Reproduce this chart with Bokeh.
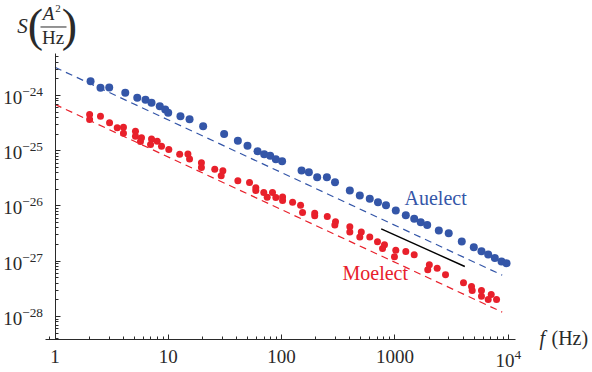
from bokeh.plotting import figure
from bokeh.models import Range1d, Label, Arrow, LogTickFormatter
from bokeh.embed import file_html
from bokeh.resources import INLINE

# ---------------- data ----------------
au_f = [2.06, 2.52, 3.01, 4.17, 5.32, 6.29, 7.11, 8.41, 9.39, 9.98,
        12.8, 15.4, 20.3, 31.1, 41.1, 50.0, 61.3, 70.2, 79.3, 88.9,
        101, 150, 174, 206, 251, 296, 400, 490, 600, 709,
        834, 1018, 1248, 1480, 1690, 1928, 2440, 2985, 3892, 4969,
        5808, 6658, 7620, 8730, 9660]
au_S = [1.82e-24, 1.38e-24, 1.40e-24, 1.12e-24, 9.1e-25, 8.36e-25, 7.38e-25, 6.40e-25, 5.58e-25, 4.86e-25,
        4.22e-25, 3.72e-25, 2.78e-25, 2.0e-25, 1.51e-25, 1.23e-25, 9.8e-26, 8.67e-26, 8.1e-26, 7.03e-26,
        6.47e-26, 4.39e-26, 4.09e-26, 3.32e-26, 3.32e-26, 2.69e-26, 1.91e-26, 1.55e-26, 1.35e-26, 1.17e-26,
        1.03e-26, 8.3e-27, 6.82e-27, 5.87e-27, 5.09e-27, 4.53e-27, 3.6e-27, 3.22e-27, 2.28e-27, 1.80e-27,
        1.52e-27, 1.32e-27, 1.14e-27, 9.9e-28, 9.2e-28]

mo_f = [2.02, 2.02, 2.52, 3.03, 3.54, 4.02, 4.02, 5.13, 5.13, 5.80,
        5.68, 6.97, 7.11, 7.98, 8.71, 10.1, 12.6, 14.9, 15.4, 19.6,
        19.6, 25.7, 30.3, 29.3, 41.1, 52.1, 59.2, 59.2, 69.6, 74.6,
        83.1, 88.9, 102, 102, 125, 147, 153, 196, 196, 253,
        299, 295, 400, 400, 505, 490, 600, 702, 809, 778,
        1018, 991, 1248, 1480, 2013, 1950, 2361, 2797, 4030, 4743,
        4810, 5808, 5808, 6658, 7080, 7890]
mo_S = [4.53e-25, 3.68e-25, 4.22e-25, 3.21e-25, 2.60e-25, 2.67e-25, 2.08e-25, 2.26e-25, 1.83e-25, 1.71e-25,
        1.47e-25, 1.30e-25, 1.64e-25, 1.49e-25, 1.21e-25, 1.05e-25, 8.67e-26, 8.73e-26, 7.06e-26, 6.05e-26,
        4.98e-26, 4.64e-26, 4.34e-26, 3.52e-26, 2.86e-26, 2.66e-26, 2.13e-26, 1.91e-26, 1.75e-26, 1.44e-26,
        1.75e-26, 1.43e-26, 1.46e-26, 1.26e-26, 1.17e-26, 1.03e-26, 7.62e-27, 7.41e-27, 6.65e-27, 6.46e-27,
        5.18e-27, 4.53e-27, 4.22e-27, 3.38e-27, 3.38e-27, 2.75e-27, 2.75e-27, 2.26e-27, 1.99e-27, 1.70e-27,
        1.58e-27, 1.20e-27, 1.50e-27, 1.31e-27, 8.67e-28, 7.0e-28, 7.48e-28, 5.69e-28, 4.09e-28, 3.49e-28,
        2.96e-28, 2.96e-28, 2.33e-28, 2.03e-28, 2.50e-28, 2.03e-28]

# fitted power laws (end points) and reference slope line
fit_f = [1, 8850]
au_fit = [3.24e-24, 5.6e-28]
mo_fit = [6.9e-25, 1.2e-28]
ref_f = [757, 4140]
ref_S = [3.86e-27, 8.03e-28]

x_tick_labels = {1: "1", 10: "10", 100: "100", 1000: "1000"}   # 10^4 keeps the 10-power form

# ---------------- styling ----------------
BLUE = "#3456a8"
RED = "#e8202b"
INK = "#2a2a2a"
SERIF = "Liberation Serif"

# the frame covers the whole canvas; axes are pinned inside it
X0, X1 = 0.3303, 55460.0
Y0, Y1 = 9.69e-30, 5.241e-23
X_AXIS_AT = 3.84e-29      # where the horizontal axis crosses
Y_AXIS_AT = 1.0           # where the vertical axis crosses

p = figure(width=592, height=372, x_axis_type="log", y_axis_type="log",
           x_range=Range1d(X0, X1), y_range=Range1d(Y0, Y1),
           output_backend="svg", toolbar_location=None,
           min_border_left=0, min_border_right=0, min_border_top=0, min_border_bottom=0)
p.grid.visible = False
p.outline_line_color = None
p.background_fill_color = "white"
p.border_fill_color = "white"

for ax in (p.xaxis[0], p.yaxis[0]):
    ax.axis_line_color = INK
    ax.axis_line_width = 1
    ax.major_tick_in = 5
    ax.major_tick_out = 0
    ax.minor_tick_in = 3
    ax.minor_tick_out = 0
    ax.major_tick_line_color = INK
    ax.minor_tick_line_color = INK
    ax.major_label_text_font = SERIF
    ax.major_label_text_font_size = "19px"
    ax.major_label_text_color = INK

p.xaxis.fixed_location = X_AXIS_AT
p.yaxis.fixed_location = Y_AXIS_AT
p.xaxis.bounds = (0.824, 11590)
p.yaxis.bounds = (X_AXIS_AT, 5.69e-24)
p.xaxis.major_label_standoff = 11
p.yaxis.major_label_standoff = 12
p.xaxis.formatter = LogTickFormatter()
p.xaxis.major_label_overrides = x_tick_labels

# fit lines
p.line(fit_f, au_fit, line_color=BLUE, line_width=1.2, line_dash="7 5")
p.line(fit_f, mo_fit, line_color=RED, line_width=1.2, line_dash="7 5")
p.line(ref_f, ref_S, line_color="black", line_width=1.4)

# data points
p.scatter(au_f, au_S, size=8, fill_color=BLUE, line_color=None)
p.scatter(mo_f, mo_S, size=7, fill_color=RED, line_color=None)


def at(px, py):
    """picture pixel -> data coordinate (for annotation placement)"""
    return 10 ** ((px - 54.5) / 113.3), 10 ** (-24 - (py - 95) / 55.25)


def lab(px, py, text, size, color=INK, style="normal", align="left", baseline="middle"):
    x, y = at(px, py)
    p.add_layout(Label(x=x, y=y, text=text, text_font=SERIF, text_font_size=size,
                       text_color=color, text_font_style=style,
                       text_align=align, text_baseline=baseline))


def seg(p0, p1, color=INK, width=1):
    (x0, y0), (x1, y1) = at(*p0), at(*p1)
    p.add_layout(Arrow(end=None, x_start=x0, y_start=y0, x_end=x1, y_end=y1,
                       line_color=color, line_width=width))


# series labels (vertical centres)
lab(404, 198, "Auelect", "20px", BLUE)
lab(342, 273, "Moelect", "20px", RED)

# x-axis label  f (Hz)
lab(539, 338, "f", "20px", INK, "italic")
lab(551, 338, "(Hz)", "20px", INK)

# y-axis label  S (A^2 / Hz)
lab(22, 26, "S", "21px", INK, "italic", "center")
lab(35, 25, "(", "46px", INK, "normal", "center")
lab(69, 25, ")", "46px", INK, "normal", "center")
lab(48, 13, "A", "19px", INK, "italic", "center")
lab(57.5, 8, "2", "11px", INK, "normal", "center")
seg((40, 26.5), (66, 26.5))
lab(52.5, 37, "Hz", "19px", INK, "normal", "center")

open("out.html", "w").write(file_html(p, INLINE))
